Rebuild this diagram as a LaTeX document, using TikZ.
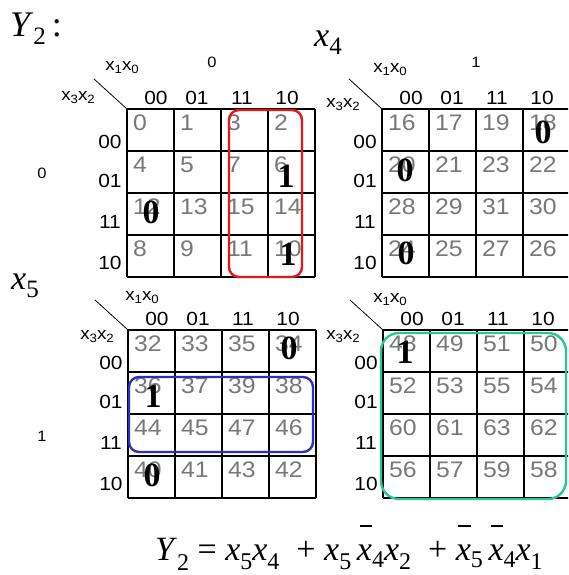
\documentclass[tikz,border=0pt]{standalone}
\usepackage{fontspec}
\setmainfont{Liberation Serif}
\newfontfamily\lab[FakeStretch=1.1]{Liberation Sans}
\definecolor{numgray}{RGB}{120,120,120}
\definecolor{loopred}{RGB}{235,20,20}
\definecolor{loopblue}{RGB}{45,45,195}
\definecolor{loopgreen}{RGB}{40,200,150}
\newcommand\mysub[3]{\raisebox{-#2}{\fontsize{#1}{#1}\selectfont #3}}
\newcommand\barx{\makebox[0pt][l]{\hspace{0.08em}\raisebox{0.97em}{\rule{0.36em}{0.045em}}}\textit{x}}
\newcommand\xlab[2]{x\mysub{12}{3pt}{#1}x\mysub{12}{3pt}{#2}}
\tikzset{
  gridline/.style={line width=1.3pt, black},
  diag/.style={line width=0.8pt, black},
  cellnum/.style={font=\lab\fontsize{22.5}{22.5}\selectfont, text=numgray, anchor=base west, inner sep=0},
  hdr/.style={font=\lab\fontsize{19}{19}\selectfont, inner sep=0},
  small/.style={font=\lab\fontsize{17}{17}\selectfont, inner sep=0},
  tiny/.style={font=\lab\fontsize{15}{15}\selectfont, inner sep=0},
  val/.style={font=\bfseries\fontsize{34}{34}\selectfont, inner sep=0},
  loop/.style={line width=2.4pt},
}
% #1 x left, #2 y top, #3 base, #4/#5 x1x0 label pos, #6/#7 x3x2 label pos
\newcommand\kmap[7]{%
  \foreach \i in {0,...,4} {
    \draw[gridline] (#1+\i*47,#2) -- (#1+\i*47,#2+168);
    \draw[gridline] (#1,#2+\i*42) -- (#1+188,#2+\i*42);
  }
  \foreach \r/\ro in {0/0,1/4,2/12,3/8} {
    \foreach \c/\co in {0/0,1/1,2/3,3/2} {
      \pgfmathtruncatemacro\num{#3+\ro+\co}
      \node[cellnum] (cell\num) at (#1+\c*47+6,#2+\r*42+21) {\num};
    }
  }
  \foreach \hx/\lbl in {29/00,70/01,115/11,160/10}
    \node[hdr] (col#3-\lbl) at (#1+\hx,#2-11) {\lbl};
  \foreach \hy/\lbl in {33/00,72/01,113/11,154/10}
    \node[hdr] (row#3-\lbl) at (#1-17,#2+\hy) {\lbl};
  \coordinate (da#3) at (#1-33,#2-30);
  \coordinate (db#3) at (#1,#2);
  \draw[diag] (da#3) -- (db#3);
  \node[small] (xa#3) at (#4,#5) {\xlab{1}{0}};
  \node[small] (xb#3) at (#6,#7) {\xlab{3}{2}};
}
\begin{document}
\begin{tikzpicture}[x=1pt,y=-1pt]
\useasboundingbox (0,0) rectangle (568,575);
\clip (0,0) rectangle (568,575);
\fill[white] (0,0) rectangle (568,575);

\kmap{127}{109}{0}{122}{68}{78}{98}
\kmap{382}{109}{16}{390}{70}{343}{105}
\kmap{128}{330}{32}{142}{298}{97}{337}
\kmap{383}{330}{48}{390}{300}{343}{337}

% loops
\draw[loop, loopred, rounded corners=10pt] (229,110) rectangle (302,277);
\draw[loop, loopblue, rounded corners=10pt] (129,377) rectangle (313,452);
\draw[loop, loopgreen, rounded corners=18pt] (381,333) rectangle (566,499);

% values
\node[val] (v1) at (286,176) {1};
\node[val] (v2) at (151,212) {0};
\node[val] (v3) at (288,254) {1};
\node[val] (v4) at (543,132) {0};
\node[val] (v5) at (405,170) {0};
\node[val] (v6) at (406,253) {0};
\node[val] (v7) at (289,348) {0};
\node[val] (v8) at (153,396) {1};
\node[val] (v9) at (152,475) {0};
\node[val] (v10) at (405,352) {1};

% variable labels
\node[tiny] (t0) at (212,62) {0};
\node[tiny] (t1) at (476,62) {1};
\node[tiny] (l0) at (42,173) {0};
\node[tiny] (l1) at (42,436) {1};

\node[anchor=base west, inner sep=0, font=\fontsize{36}{36}\selectfont] (ylab) at (10,37)
  {\textit{Y}\mysub{25}{8pt}{2}\,:};
\node[anchor=base west, inner sep=0, font=\fontsize{34}{34}\selectfont] (x4lab) at (314,47)
  {\textit{x}\mysub{25}{8pt}{4}};
\node[anchor=base west, inner sep=0, font=\fontsize{34}{34}\selectfont] (x5lab) at (11,289)
  {\textit{x}\mysub{25}{8pt}{5}};

\node[anchor=base west, inner sep=0, font=\fontsize{34}{34}\selectfont] (formula) at (155,560)
  {\textit{Y}\mysub{24}{10pt}{2} = \textit{x}\mysub{24}{9pt}{5}\textit{x}\mysub{24}{9pt}{4}\ \ + \textit{x}\mysub{24}{9pt}{5}\,\barx\mysub{24}{7pt}{4}\textit{x}\mysub{24}{9pt}{2}\ \ + \barx\mysub{24}{7pt}{5}\,\barx\mysub{24}{7pt}{4}\textit{x}\mysub{24}{9pt}{1}};
\end{tikzpicture}
\end{document}
